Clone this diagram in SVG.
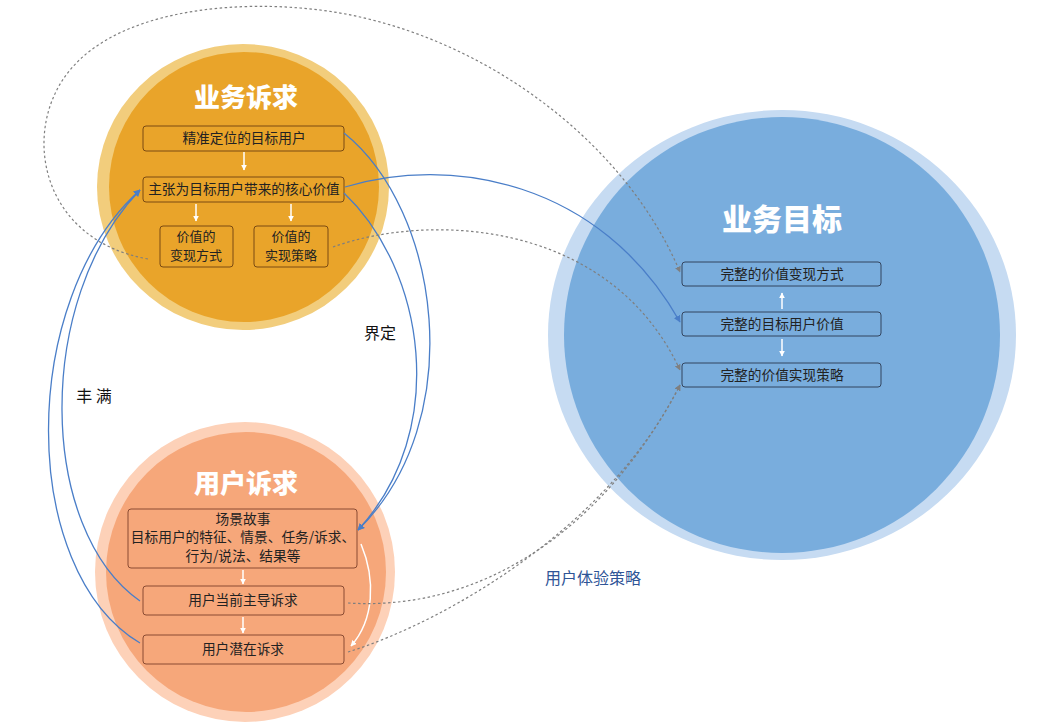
<svg xmlns="http://www.w3.org/2000/svg" width="1052" height="727" viewBox="0 0 1052 727">
<style>
.t{font-family:"Noto Sans CJK SC","Noto Sans",sans-serif;font-size:13.7px;fill:#222;text-anchor:middle}
.t2{font-family:"Noto Sans CJK SC","Noto Sans",sans-serif;font-size:13px;fill:#222;text-anchor:middle}
.title{font-family:"Noto Sans CJK SC",serif;font-weight:900;fill:#fff;text-anchor:middle}
.lbl{font-family:"Noto Sans CJK SC","Noto Sans",sans-serif;font-size:16px;fill:#111;text-anchor:middle}
.bo{fill:none;stroke:#7a4a12;stroke-width:1}
.bs{fill:none;stroke:#8a4b32;stroke-width:1}
.bb{fill:none;stroke:#33455f;stroke-width:1}
.blue{fill:none;stroke:#4a7ec8;stroke-width:1.3}
.dot{fill:none;stroke:#7f7f7f;stroke-width:1.2;stroke-dasharray:2.5 2.5}
.wa{fill:none;stroke:#fff;stroke-width:1.5}
</style>
<defs>
<marker id="mb" viewBox="0 0 10 10" refX="9" refY="5" markerWidth="7" markerHeight="7" orient="auto" markerUnits="userSpaceOnUse"><path d="M0,0 L10,5 L0,10 z" fill="#4a7ec8"/></marker>
<marker id="mg" viewBox="0 0 10 10" refX="9" refY="5" markerWidth="6" markerHeight="6" orient="auto" markerUnits="userSpaceOnUse"><path d="M0,0 L10,5 L0,10 z" fill="#7f7f7f"/></marker>
<marker id="mw" viewBox="0 0 10 10" refX="9" refY="5" markerWidth="6" markerHeight="6" orient="auto" markerUnits="userSpaceOnUse"><path d="M0,0 L10,5 L0,10 z" fill="#fff"/></marker>
</defs>
<rect width="1052" height="727" fill="#fff"/>

<g id="business-goal">
<ellipse cx="782" cy="335" rx="234" ry="225" fill="#c6dbf2"/>
<circle cx="782" cy="335" r="218" fill="#79addd"/>
<text class="title" x="782" y="230" font-size="30">业务目标</text>
<rect class="bb" x="682" y="262" width="199" height="24" rx="3"/>
<text class="t" x="782" y="279">完整的价值变现方式</text>
<rect class="bb" x="682" y="312" width="199" height="24" rx="3"/>
<text class="t" x="782" y="329">完整的目标用户价值</text>
<rect class="bb" x="682" y="363" width="199" height="24" rx="3"/>
<text class="t" x="782" y="380">完整的价值实现策略</text>
<path class="wa" d="M782,309 L782,293" marker-end="url(#mw)"/>
<path class="wa" d="M782,339 L782,356" marker-end="url(#mw)"/>
</g>

<g id="business-need">
<ellipse cx="243" cy="187" rx="146" ry="143" fill="#f2cd7c"/>
<circle cx="244" cy="187" r="135" fill="#e9a42a"/>
<text class="title" x="246" y="107" font-size="26">业务诉求</text>
<rect class="bo" x="143" y="126" width="201" height="25" rx="3"/>
<text class="t" x="244" y="143">精准定位的目标用户</text>
<rect class="bo" x="143" y="177" width="201" height="25" rx="3"/>
<text class="t" x="244" y="194">主张为目标用户带来的核心价值</text>
<rect class="bo" x="160" y="226" width="73" height="41" rx="3"/>
<text class="t2" x="196" y="241">价值的</text>
<text class="t2" x="196" y="260">变现方式</text>
<rect class="bo" x="254" y="226" width="74" height="41" rx="3"/>
<text class="t2" x="291" y="241">价值的</text>
<text class="t2" x="291" y="260">实现策略</text>
<path class="wa" d="M244,152 L244,170" marker-end="url(#mw)"/>
<path class="wa" d="M196,204 L196,221" marker-end="url(#mw)"/>
<path class="wa" d="M291,204 L291,221" marker-end="url(#mw)"/>
</g>

<g id="user-need">
<circle cx="245" cy="572" r="150" fill="#fdd1b8"/>
<circle cx="246" cy="572" r="140" fill="#f6a77a"/>
<text class="title" x="246" y="493" font-size="26">用户诉求</text>
<rect class="bs" x="128" y="509" width="229" height="59" rx="3"/>
<text class="t" x="243" y="524">场景故事</text>
<text class="t" x="243" y="542">目标用户的特征、情景、任务/诉求、</text>
<text class="t" x="243" y="561">行为/说法、结果等</text>
<rect class="bs" x="143" y="586" width="201" height="29" rx="3"/>
<text class="t" x="243" y="605">用户当前主导诉求</text>
<rect class="bs" x="143" y="635" width="201" height="29" rx="3"/>
<text class="t" x="243" y="654">用户潜在诉求</text>
<path class="wa" d="M243,570 L243,584" marker-end="url(#mw)"/>
<path class="wa" d="M243,617 L243,633" marker-end="url(#mw)"/>
<path class="wa" d="M361,544 C376,580 374,620 351,646" marker-end="url(#mw)"/>
</g>

<g id="connectors">
<path class="blue" d="M345,187 C450,155 600,180 680,322" marker-end="url(#mb)"/>
<path class="blue" d="M344,133 C440,210 470,420 358,530" marker-end="url(#mb)"/>
<path class="blue" d="M344,193 C425,270 450,430 358,530" marker-end="url(#mb)"/>
<path class="blue" d="M140,601 C38,530 34,300 140,190" marker-end="url(#mb)"/>
<path class="blue" d="M140,643 C18,570 18,300 140,190" marker-end="url(#mb)"/>
<path class="dot" d="M148,259 C40,240 20,130 70,70 C120,10 230,2 300,8 C460,20 620,130 680,272" marker-end="url(#mg)"/>
<path class="dot" d="M333,247 C430,212 610,220 680,370" marker-end="url(#mg)"/>
<path class="dot" d="M348,603 C490,612 610,520 680,385" marker-end="url(#mg)"/>
<path class="dot" d="M348,652 C450,620 610,525 680,385" marker-end="url(#mg)"/>
</g>

<g id="labels">
<text class="lbl" x="380" y="339">界定</text>
<text class="lbl" x="94" y="402">丰 满</text>
<text class="lbl" x="593" y="584" style="fill:#2f5597">用户体验策略</text>
</g>
</svg>
